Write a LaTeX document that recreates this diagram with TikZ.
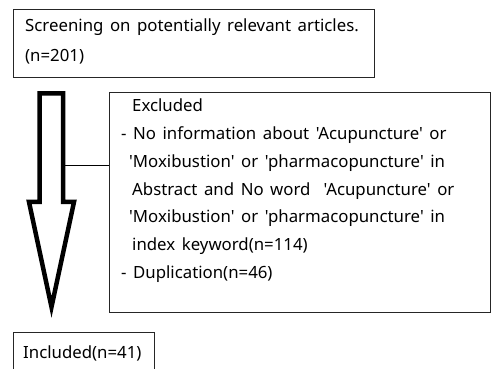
\documentclass[tikz,border=0pt]{standalone}
\usepackage{fontspec}
\setmainfont{Noto Sans}[Ligatures=TeXOff, WordSpace=1.5]
\begin{document}
\begin{tikzpicture}[x=1pt, y=-1pt,
    box/.style={draw=black!85, line width=1pt, anchor=north west, inner sep=0pt},
    txt/.style={anchor=north west, inner sep=0pt, align=left,
      font=\fontsize{16.8}{#1}\selectfont},
    txt/.default=27.7,
    bigarrow/.style={draw=black, line width=4.5pt, miter limit=20},
  ]
  \useasboundingbox (0,0) rectangle (491,369);
  \clip (0,0) rectangle (491,369);

  \node[box, minimum width=361pt, minimum height=67.5pt] (screen) at (13,9.3) {};
  \node[txt=30] (screentext) at (25,19)
  {Screening on potentially relevant articles.\\
  (n=201)};

  \node[box, minimum width=380.5pt, minimum height=220pt] (excl) at (109,92) {};
  \node[txt] (excltext) at (121,99)
  {\hspace{11pt}Excluded\\
  - No information about 'Acupuncture' or\\
  \hspace{8pt}'Moxibustion' or 'pharmacopuncture' in\\
  \hspace{11pt}Abstract and No word~ 'Acupuncture' or\\
  \hspace{8pt}'Moxibustion' or 'pharmacopuncture' in\\
  \hspace{11pt}index keyword(n=114)\\
  - Duplication(n=46)};

  \node[box, minimum width=141pt, minimum height=60pt] (incl) at (13,332) {};
  \node[txt] (incltext) at (23,346) {Included(n=41)};

  % connector from the arrow shaft to the excluded box
  \coordinate (shaft) at (63,166);
  \draw[line width=1pt] (shaft) -- (shaft -| excl.west);

  % big down arrow
  \draw[bigarrow] (39.5,93.5) -- (63,93.5) -- (63,202) -- (74,202)
    -- (51.5,307) -- (29,202) -- (39.5,202) -- cycle;
\end{tikzpicture}
\end{document}
